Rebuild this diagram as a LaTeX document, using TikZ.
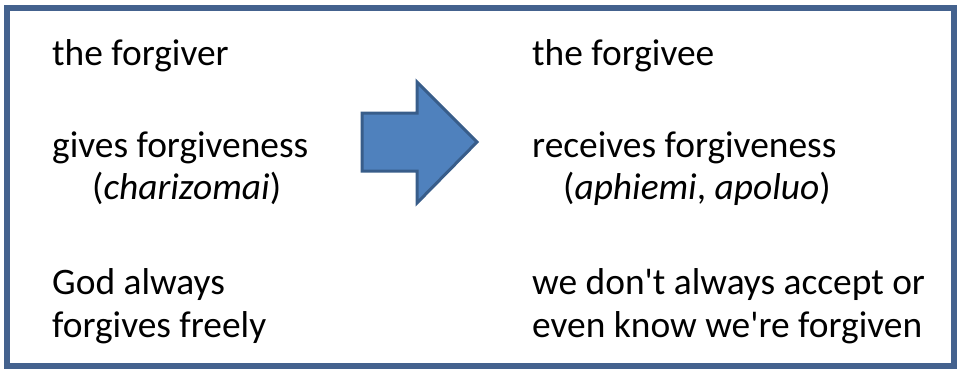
\documentclass[tikz,border=0pt]{standalone}
\usepackage{fontspec}
\setmainfont{Carlito}
\definecolor{framecol}{RGB}{68,98,142}
\definecolor{arrowfill}{RGB}{79,129,189}
\definecolor{arrowline}{RGB}{56,93,138}
\begin{document}
\begin{tikzpicture}[x=1pt,y=-1pt]
\tikzstyle{every node}+=[inner sep=0pt, anchor=base west, font=\fontsize{37.4}{45}\selectfont]
\useasboundingbox (0,0) rectangle (960,370);
\draw [framecol, line width=5.5] (7,8) rectangle (954,366);
% left column
\node (giver) at (52,65) {the forgiver};
\node (gives) at (52,157) {gives forgiveness};
\node (giveword) at (92,199) {(\textit{charizomai})};
\node (god) at (52,294) {God always};
\node (freely) at (52,337) {forgives freely};
% block arrow
\draw [arrowline, fill=arrowfill, line width=3, line join=miter]
  (362,113) -- (417,113) -- (417,82) -- (477,142) -- (417,203) -- (417,171) -- (362,171) -- cycle;
% right column
\node (givee) at (532,65) {the forgivee};
\node (receives) at (532,157) {receives forgiveness};
\node (receiveword) at (563,199) {(\textit{aphiemi}, \textit{apoluo})};
\node (accept) at (532,294) {we don\textquotesingle t always accept or};
\node (know) at (532,337) {even know we\textquotesingle re forgiven};
\end{tikzpicture}
\end{document}
